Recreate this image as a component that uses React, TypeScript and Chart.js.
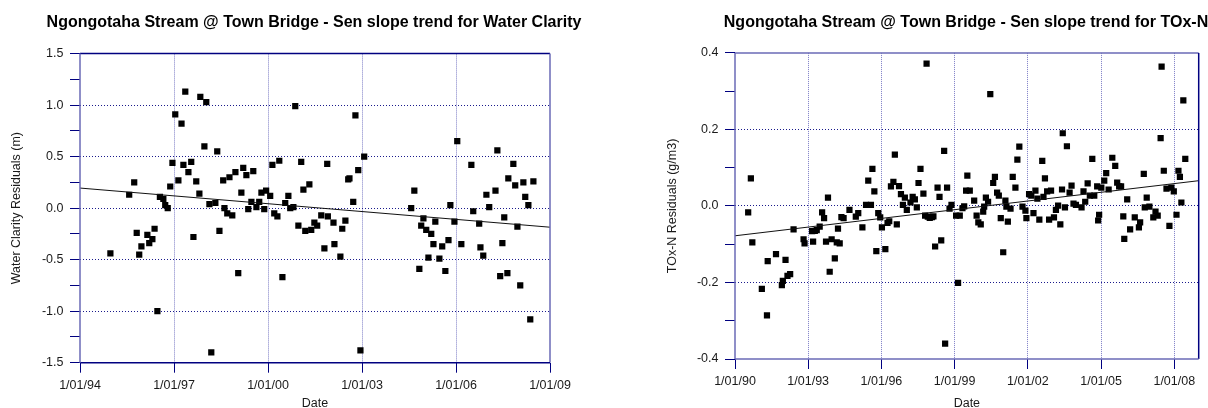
import React, { useEffect, useRef } from 'react';
import { Chart, registerables } from 'chart.js';

Chart.register(...registerables);

const FONT = '"Liberation Sans", Arial, Helvetica, sans-serif';

// ---------- Water Clarity ----------
const clarityTitle = 'Ngongotaha Stream @ Town Bridge - Sen slope trend for Water Clarity';
const clarityYTitle = 'Water Clarity Residuals (m)';
const clarityDates = [
  1994.97, 1995.57, 1995.73, 1995.81, 1995.89, 1995.96, 1996.15, 1996.21, 1996.31, 1996.38,
  1996.47, 1996.55, 1996.66, 1996.72, 1996.80, 1996.88, 1996.95, 1997.04, 1997.14, 1997.24,
  1997.30, 1997.36, 1997.46, 1997.55, 1997.62, 1997.71, 1997.81, 1997.84, 1997.97, 1998.03,
  1998.13, 1998.19, 1998.32, 1998.38, 1998.45, 1998.57, 1998.61, 1998.70, 1998.77, 1998.86,
  1998.96, 1999.05, 1999.15, 1999.21, 1999.31, 1999.37, 1999.47, 1999.53, 1999.63, 1999.72,
  1999.79, 1999.88, 1999.94, 2000.07, 2000.14, 2000.20, 2000.30, 2000.36, 2000.46, 2000.55,
  2000.65, 2000.71, 2000.81, 2000.87, 2000.97, 2001.06, 2001.13, 2001.19, 2001.32, 2001.38,
  2001.48, 2001.57, 2001.70, 2001.80, 2001.89, 2001.91, 2002.09, 2002.12, 2002.31, 2002.37,
  2002.47, 2002.56, 2002.60, 2002.72, 2002.79, 2002.88, 2002.95, 2003.07,
  2004.57, 2004.67, 2004.83, 2004.89, 2004.96, 2005.05, 2005.12, 2005.21, 2005.28, 2005.34,
  2005.47, 2005.56, 2005.66, 2005.76, 2005.82, 2005.95, 2006.04, 2006.17, 2006.49, 2006.55,
  2006.74, 2006.78, 2006.87, 2006.97, 2007.06, 2007.26, 2007.32, 2007.41, 2007.48, 2007.54,
  2007.64, 2007.67, 2007.83, 2007.89, 2007.96, 2008.05, 2008.15, 2008.21, 2008.31, 2008.37,
  2008.47,
];
const clarityResiduals = [
  -0.44, 0.13, 0.25, -0.24, -0.45, -0.37, -0.26, -0.34, -0.30, -0.20,
  -1.00, 0.11, 0.09, 0.03, 0.00, 0.21, 0.44, 0.91, 0.27, 0.82,
  0.42, 1.13, 0.35, 0.45, -0.28, 0.26, 0.14, 1.08, 0.60, 1.03,
  0.04, -1.40, 0.05, 0.55, -0.22, 0.27, 0.00, -0.05, 0.30, -0.07,
  0.35, -0.63, 0.15, 0.39, 0.32, -0.01, 0.06, 0.36, 0.01, 0.06,
  0.15, -0.01, 0.17, 0.12, 0.42, -0.05, -0.08, 0.46, -0.67, 0.05,
  0.12, 0.00, 0.01, 0.99, -0.17, 0.45, 0.18, -0.22, 0.23, -0.21,
  -0.14, -0.17, -0.07, -0.39, 0.43, -0.08, -0.14, -0.35, -0.47, -0.20,
  -0.12, 0.28, 0.29, 0.06, 0.90, 0.37, -1.38, 0.50,
  0.00, 0.17, -0.59, -0.17, -0.10, -0.21, -0.48, -0.25, -0.35, -0.13,
  -0.49, -0.37, -0.61, -0.31, 0.03, -0.13, 0.65, -0.35, 0.42, -0.03,
  -0.15, -0.38, -0.46, 0.13, 0.01, 0.17, 0.56, -0.66, -0.34, -0.09,
  -0.63, 0.29, 0.43, 0.22, -0.18, -0.75, 0.25, 0.11, 0.03, -1.08,
  0.26,
];
const clarityTrendDates = [1994, 2009];
const clarityTrendValues = [0.195, -0.185];
const clarityXTicks = [1994, 1997, 2000, 2003, 2006, 2009];
const clarityYTicks = [-1.5, -1.25, -1.0, -0.75, -0.5, -0.25, 0, 0.25, 0.5, 0.75, 1.0, 1.25, 1.5];
const clarityYLabelled = [-1.5, -1.0, -0.5, 0, 0.5, 1.0, 1.5];

// ---------- TOx-N ----------
const toxnTitle = 'Ngongotaha Stream @ Town Bridge - Sen slope trend for TOx-N';
const toxnYTitle = 'TOx-N Residuals (g/m3)';
const toxnDates = [
  1990.54, 1990.65, 1990.71, 1991.10, 1991.31, 1991.34, 1991.68, 1991.92, 1991.96, 1992.07,
  1992.15, 1992.26, 1992.40, 1992.81, 1992.85, 1993.16, 1993.20, 1993.27, 1993.35, 1993.47,
  1993.57, 1993.65, 1993.73, 1993.81, 1993.88, 1993.96, 1994.09, 1994.17, 1994.22, 1994.29,
  1994.36, 1994.45, 1994.69, 1994.95, 1995.05, 1995.22, 1995.37, 1995.46, 1995.57, 1995.63,
  1995.71, 1995.79, 1995.87, 1995.95, 1996.02, 1996.16, 1996.25, 1996.32, 1996.39, 1996.49,
  1996.55, 1996.63, 1996.72, 1996.80, 1996.88, 1996.96, 1997.04, 1997.19, 1997.28, 1997.37,
  1997.45, 1997.52, 1997.60, 1997.72, 1997.79, 1997.85, 1997.90, 1997.98, 1998.07, 1998.13,
  1998.20, 1998.30, 1998.38, 1998.45, 1998.57, 1998.61, 1998.69, 1998.79, 1998.87, 1999.06,
  1999.14, 1999.21, 1999.32, 1999.39, 1999.47, 1999.52, 1999.62, 1999.80, 1999.90, 1999.97,
  2000.07, 2000.17, 2000.21, 2000.28, 2000.37, 2000.46, 2000.58, 2000.65, 2000.74, 2000.81,
  2000.89, 2000.99, 2001.08, 2001.12, 2001.18, 2001.29, 2001.38, 2001.49, 2001.57, 2001.65,
  2001.78, 2001.90, 2001.94, 2002.05, 2002.14, 2002.23, 2002.31, 2002.39, 2002.47, 2002.59,
  2002.64, 2002.70, 2002.79, 2002.87, 2002.95, 2003.07, 2003.15, 2003.24, 2003.33, 2003.40,
  2003.43, 2003.52, 2003.60, 2003.71, 2003.79, 2003.87, 2003.97, 2004.20, 2004.28, 2004.35,
  2004.45, 2004.54, 2004.64, 2004.72, 2004.84, 2004.88, 2004.92, 2005.01, 2005.13, 2005.21,
  2005.31, 2005.46, 2005.58, 2005.66, 2005.74, 2005.82, 2005.91, 2005.95, 2006.07, 2006.19,
  2006.38, 2006.55, 2006.60, 2006.75, 2006.79, 2006.87, 2006.98, 2007.14, 2007.23, 2007.32,
  2007.44, 2007.48, 2007.57, 2007.68, 2007.80, 2007.88, 2007.98, 2008.09, 2008.17, 2008.23,
  2008.29, 2008.37, 2008.45,
];
const toxnResiduals = [
  -0.017, 0.072, -0.095, -0.217, -0.286, -0.144, -0.126, -0.207, -0.196, -0.141,
  -0.183, -0.178, -0.061, -0.087, -0.098, -0.066, -0.093, -0.065, -0.063, -0.054,
  -0.017, -0.032, -0.093, 0.022, -0.172, -0.087, -0.137, -0.095, -0.059, -0.098,
  -0.029, -0.032, -0.010, -0.028, -0.019, -0.056, 0.003, 0.066, 0.003, 0.097,
  0.038, -0.118, -0.019, -0.030, -0.056, -0.113, -0.044, -0.040, 0.051, 0.063,
  0.134, -0.048, 0.052, 0.031, 0.003, 0.022, -0.010, 0.009, 0.024, 0.017,
  -0.004, 0.060, 0.097, 0.032, -0.025, 0.372, -0.028, -0.031, -0.029, -0.027,
  -0.106, 0.048, 0.024, -0.090, 0.144, -0.360, 0.048, -0.007, 0.003, -0.025,
  -0.201, -0.025, -0.006, -0.001, 0.040, 0.079, 0.040, 0.014, -0.025, -0.043,
  -0.048, -0.015, -0.002, 0.022, 0.011, 0.292, 0.060, 0.076, 0.035, 0.027,
  -0.032, -0.121, 0.014, -0.002, -0.041, -0.007, 0.076, 0.048, 0.121, 0.155,
  -0.002, -0.012, -0.032, 0.031, 0.027, -0.019, 0.040, 0.019, -0.036, 0.118,
  0.024, 0.072, 0.038, -0.036, 0.040, -0.030, -0.010, 0.001, -0.048, 0.043,
  0.190, -0.004, 0.156, 0.035, 0.053, 0.006, 0.003, -0.004, 0.038, 0.011,
  0.059, 0.027, 0.123, 0.027, 0.051, -0.038, -0.023, 0.048, 0.066, 0.086,
  0.043, 0.126, 0.105, 0.061, 0.051, 0.051, -0.027, -0.086, 0.017, -0.061,
  -0.030, -0.056, -0.043, 0.084, -0.004, 0.022, -0.002, -0.030, -0.015, -0.025,
  0.177, 0.364, 0.092, 0.045, -0.052, 0.048, 0.038, -0.023, 0.092, 0.076,
  0.009, 0.276, 0.123,
];
const toxnTrendDates = [1990, 2009];
const toxnTrendValues = [-0.078, 0.066];
const toxnXTicks = [1990, 1993, 1996, 1999, 2002, 2005, 2008];
const toxnXMax = 2009;
const toxnYTicks = [-0.4, -0.3, -0.2, -0.1, 0, 0.1, 0.2, 0.3, 0.4];
const toxnYLabelled = [-0.4, -0.2, 0, 0.2, 0.4];

const NAVY = '#000080';
const LAV = '#6a6ab6';

type Params = {
  title: string;
  yTitle: string;
  dates: number[];
  values: number[];
  trendDates: number[];
  trendValues: number[];
  xTicks: number[];
  xMin: number;
  xMax: number;
  yTicks: number[];
  yLabelled: number[];
  rightSpace: number;
  titleBottom: number;
  yAxisWidth: number;
  yTitlePad: number;
  xAxisHeight: number;
  frame: { top: string; right: string; bottom: string; left: string };
};

function isLabelled(v: number, list: number[]) {
  return list.some((l) => Math.abs(l - v) < 1e-9);
}

function buildConfig(p: Params): any {
  const tickFont = { family: FONT, size: 12.5 };
  const framePlugin = {
    id: 'frame',
    afterDraw(chart: any) {
      const { ctx, chartArea } = chart;
      const { left, top, right, bottom } = chartArea;
      const seg = (x1: number, y1: number, x2: number, y2: number, c: string, w: number) => {
        ctx.save();
        ctx.strokeStyle = c;
        ctx.lineWidth = w;
        ctx.beginPath();
        ctx.moveTo(x1, y1);
        ctx.lineTo(x2, y2);
        ctx.stroke();
        ctx.restore();
      };
      seg(left, top, right, top, p.frame.top, 1.5);
      seg(right, top, right, bottom, p.frame.right, 1.5);
      seg(left, bottom, right, bottom, p.frame.bottom, 1.5);
      seg(left, top, left, bottom, p.frame.left, 1.5);
    },
  };
  return {
    type: 'scatter',
    data: {
      datasets: [
        {
          type: 'scatter',
          data: p.dates.map((d, i) => ({ x: d, y: p.values[i] })),
          pointStyle: 'rect',
          pointRadius: 4.4,
          backgroundColor: '#000',
          borderWidth: 0,
          order: 2,
          xAxisID: 'x',
          yAxisID: 'y',
        },
        {
          type: 'line',
          data: p.trendDates.map((d, i) => ({ x: d, y: p.trendValues[i] })),
          borderColor: '#111',
          borderWidth: 1,
          pointRadius: 0,
          fill: false,
          order: 1,
          xAxisID: 'x',
          yAxisID: 'y',
        },
      ],
    },
    options: {
      animation: false,
      responsive: false,
      maintainAspectRatio: false,
      layout: { padding: 0 },
      plugins: {
        legend: { display: false },
        tooltip: { enabled: false },
        title: {
          display: true,
          text: p.title,
          color: '#000',
          font: { family: FONT, size: 16, weight: 'bold' },
          padding: { top: 12.5, bottom: p.titleBottom },
        },
      },
      scales: {
        x: {
          type: 'linear',
          position: 'bottom',
          min: p.xMin,
          max: p.xMax,
          afterBuildTicks: (s: any) => {
            s.ticks = p.xTicks.map((v) => ({ value: v }));
          },
          afterFit: (s: any) => {
            s.height = p.xAxisHeight;
          },
          ticks: {
            autoSkip: false,
            maxRotation: 0,
            padding: 5,
            color: '#1a1a1a',
            font: tickFont,
            callback: (v: number) => '1/01/' + String(Math.round(v) % 100).padStart(2, '0'),
          },
          grid: {
            color: (c: any) =>
              c.tick && (c.tick.value === p.xMin || c.tick.value === p.xMax) ? 'transparent' : '#7c7cc6',
            lineWidth: 1,
            tickColor: NAVY,
            tickLength: 10,
          },
          border: { display: false, dash: [1, 1] },
          title: {
            display: true,
            text: 'Date',
            color: '#1a1a1a',
            font: tickFont,
            padding: { top: 0, bottom: -3 },
          },
        },
        y: {
          type: 'linear',
          position: 'left',
          min: p.yTicks[0],
          max: p.yTicks[p.yTicks.length - 1],
          afterBuildTicks: (s: any) => {
            s.ticks = p.yTicks.map((v) => ({ value: v }));
          },
          afterFit: (s: any) => {
            s.width = p.yAxisWidth;
          },
          ticks: {
            autoSkip: false,
            padding: 6.5,
            color: '#1a1a1a',
            font: tickFont,
            callback: (v: number) => (isLabelled(v, p.yLabelled) ? v.toFixed(1) : ''),
          },
          grid: {
            color: (c: any) => {
              if (!c.tick) return 'transparent';
              const v = c.tick.value;
              if (v === p.yTicks[0] || v === p.yTicks[p.yTicks.length - 1]) return 'transparent';
              return isLabelled(v, p.yLabelled) ? '#1a1a8c' : 'transparent';
            },
            lineWidth: 1,
            tickColor: NAVY,
            tickLength: 10,
          },
          border: { display: false, dash: [1, 2] },
          title: {
            display: true,
            text: p.yTitle,
            color: '#1a1a1a',
            font: tickFont,
            padding: { top: p.yTitlePad, bottom: 0 },
          },
        },
        // empty spacer on the right so the full-width title is centred over the plot
        spacer: {
          type: 'linear',
          position: 'right',
          display: true,
          afterFit: (s: any) => {
            s.width = p.rightSpace;
          },
          ticks: { display: false },
          grid: { display: false, drawTicks: false },
          border: { display: false },
          title: { display: false },
        },
      },
    },
    plugins: [framePlugin],
  };
}

function ChartCanvas({ params, left, width }: { params: Params; left: number; width: number }) {
  const ref = useRef<HTMLCanvasElement | null>(null);
  useEffect(() => {
    if (!ref.current) return;
    const chart = new Chart(ref.current, buildConfig(params));
    return () => chart.destroy();
  }, [params]);
  return (
    <canvas
      ref={ref}
      width={width}
      height={408}
      style={{ position: 'absolute', left, top: 0, width, height: 408, display: 'block' }}
    />
  );
}

// Left canvas: page x 0..628; plot area 80..550; title centred at 314.
const clarityParams: Params = {
  title: clarityTitle,
  yTitle: clarityYTitle,
  dates: clarityDates,
  values: clarityResiduals,
  trendDates: clarityTrendDates,
  trendValues: clarityTrendValues,
  xTicks: clarityXTicks,
  xMin: clarityXTicks[0],
  xMax: clarityXTicks[clarityXTicks.length - 1],
  yTicks: clarityYTicks,
  yLabelled: clarityYLabelled,
  rightSpace: 78,
  titleBottom: 21.9,
  yAxisWidth: 80,
  yTitlePad: 9,
  xAxisHeight: 45.3,
  frame: { top: NAVY, right: LAV, bottom: NAVY, left: LAV },
};

// Right canvas: page x 604..1328 (clipped at 1208); plot area 735..1198.7; title centred at 966.
const toxnParams: Params = {
  title: toxnTitle,
  yTitle: toxnYTitle,
  dates: toxnDates,
  values: toxnResiduals,
  trendDates: toxnTrendDates,
  trendValues: toxnTrendValues,
  xTicks: toxnXTicks,
  xMin: toxnXTicks[0],
  xMax: toxnXMax,
  yTicks: toxnYTicks,
  yLabelled: toxnYLabelled,
  rightSpace: 129.3,
  titleBottom: 21.2,
  yAxisWidth: 131,
  yTitlePad: 61.4,
  xAxisHeight: 49,
  frame: { top: LAV, right: NAVY, bottom: LAV, left: LAV },
};

export default function App() {
  return (
    <div
      style={{
        position: 'absolute',
        left: 0,
        top: 0,
        width: 1208,
        height: 408,
        background: '#fff',
        overflow: 'hidden',
      }}
    >
      <ChartCanvas params={clarityParams} left={0} width={628} />
      <ChartCanvas params={toxnParams} left={604} width={724} />
    </div>
  );
}
